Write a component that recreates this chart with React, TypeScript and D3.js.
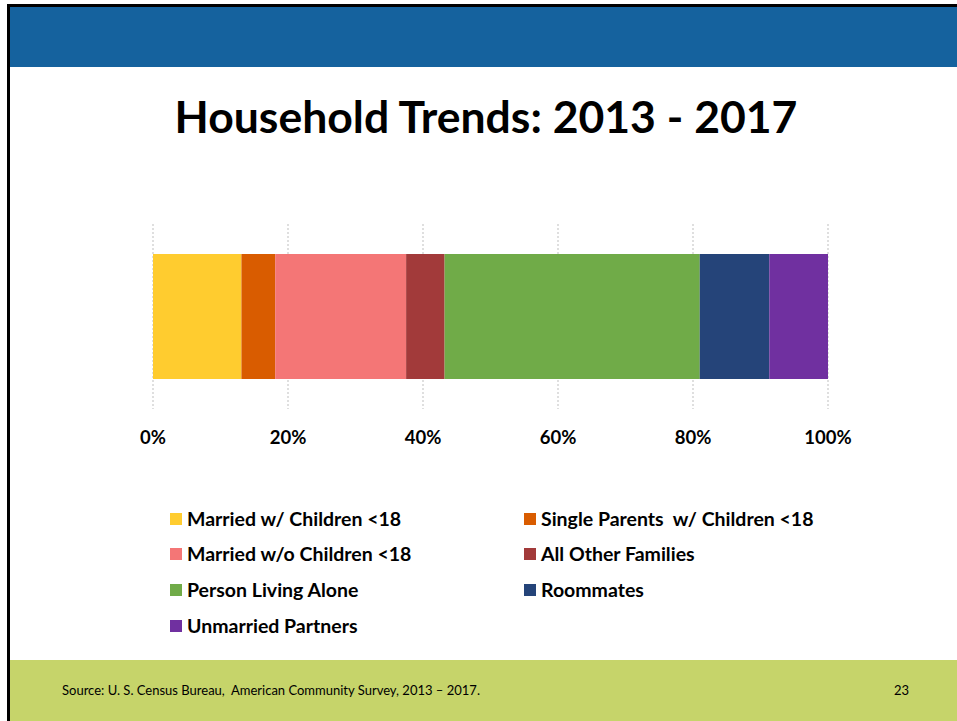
import * as d3 from "d3";

const categories = [
  "Married w/ Children <18",
  "Single Parents  w/ Children <18",
  "Married w/o Children <18",
  "All Other Families",
  "Person Living Alone",
  "Roommates",
  "Unmarried Partners",
];
const shares = [13.1, 5.0, 19.4, 5.7, 37.8, 10.3, 8.7];
const colors = ["#FFCC2F", "#D95C00", "#F47676", "#A23A3A", "#70AB48", "#254479", "#7030A0"];
const ticks = [0, 20, 40, 60, 80, 100];
const period = ["2013 - 2017"];

const W = 957;
const H = 721;
const FONT = "Lato, 'Open Sans', sans-serif";

export default function App() {
  const x = d3.scaleLinear().domain([0, 100]).range([153, 828]);
  const y = d3.scaleBand().domain(period).range([224, 409]).paddingInner(0).paddingOuter(0.24);

  const total = d3.sum(shares);
  const ends = Array.from(d3.cumsum(shares));
  const stacked = ends.map((end, i) => ({
    name: categories[i],
    color: colors[i],
    x0: ((end - shares[i]) / total) * 100,
    x1: (end / total) * 100,
  }));

  const legendCols = [170, 524];
  const legendRows = [519, 554, 590, 626];

  return (
    <div style={{ position: "absolute", left: 0, top: 0 }}>
      <svg width={W} height={H} style={{ display: "block", background: "#fff" }}>
        {/* slide frame */}
        <rect x={9} y={7} width={W - 9} height={60} fill="#15629E" />
        <rect x={7} y={4} width={W - 7} height={3} fill="#000" />
        <rect x={7} y={4} width={3} height={H - 4} fill="#000" />
        <rect x={10} y={660} width={W - 10} height={H - 660} fill="#C6D46A" />

        <text
          x={486}
          y={133}
          textAnchor="middle"
          fontFamily={FONT}
          fontWeight="bold"
          fontSize={44.5}
          fill="#000"
        >
          Household Trends: 2013 - 2017
        </text>

        {/* gridlines */}
        {ticks.map((t) => (
          <line
            key={`g${t}`}
            x1={x(t)}
            x2={x(t)}
            y1={224}
            y2={409}
            stroke="#BFBFBF"
            strokeWidth={1}
            strokeDasharray="2,2"
          />
        ))}

        {/* stacked bar */}
        {stacked.map((d) => (
          <rect
            key={d.name}
            x={x(d.x0)}
            y={y(period[0])}
            width={x(d.x1) - x(d.x0)}
            height={y.bandwidth()}
            fill={d.color}
          />
        ))}

        {/* axis labels */}
        {ticks.map((t) => (
          <text
            key={`t${t}`}
            x={x(t)}
            y={444}
            textAnchor="middle"
            fontFamily={FONT}
            fontWeight="bold"
            fontSize={18.5}
            fill="#000"
          >
            {t}%
          </text>
        ))}

        {/* legend */}
        {categories.map((c, i) => {
          const lx = legendCols[i % 2];
          const ly = legendRows[Math.floor(i / 2)];
          return (
            <g key={`l${c}`}>
              <rect x={lx} y={ly - 6} width={12} height={12} fill={colors[i]} />
              <text
                x={lx + 17}
                y={ly + 6.5}
                fontFamily={FONT}
                fontWeight="bold"
                fontSize={19.5}
                fill="#000"
                style={{ whiteSpace: "pre" }}
              >
                {c}
              </text>
            </g>
          );
        })}

        {/* footer */}
        <text x={62} y={695} fontFamily={FONT} fontSize={13} fill="#000" style={{ whiteSpace: "pre" }}>
          Source: U. S. Census Bureau,  American Community Survey, 2013 – 2017.
        </text>
        <text x={909} y={695} textAnchor="end" fontFamily={FONT} fontSize={13} fill="#000">
          23
        </text>
      </svg>
    </div>
  );
}
